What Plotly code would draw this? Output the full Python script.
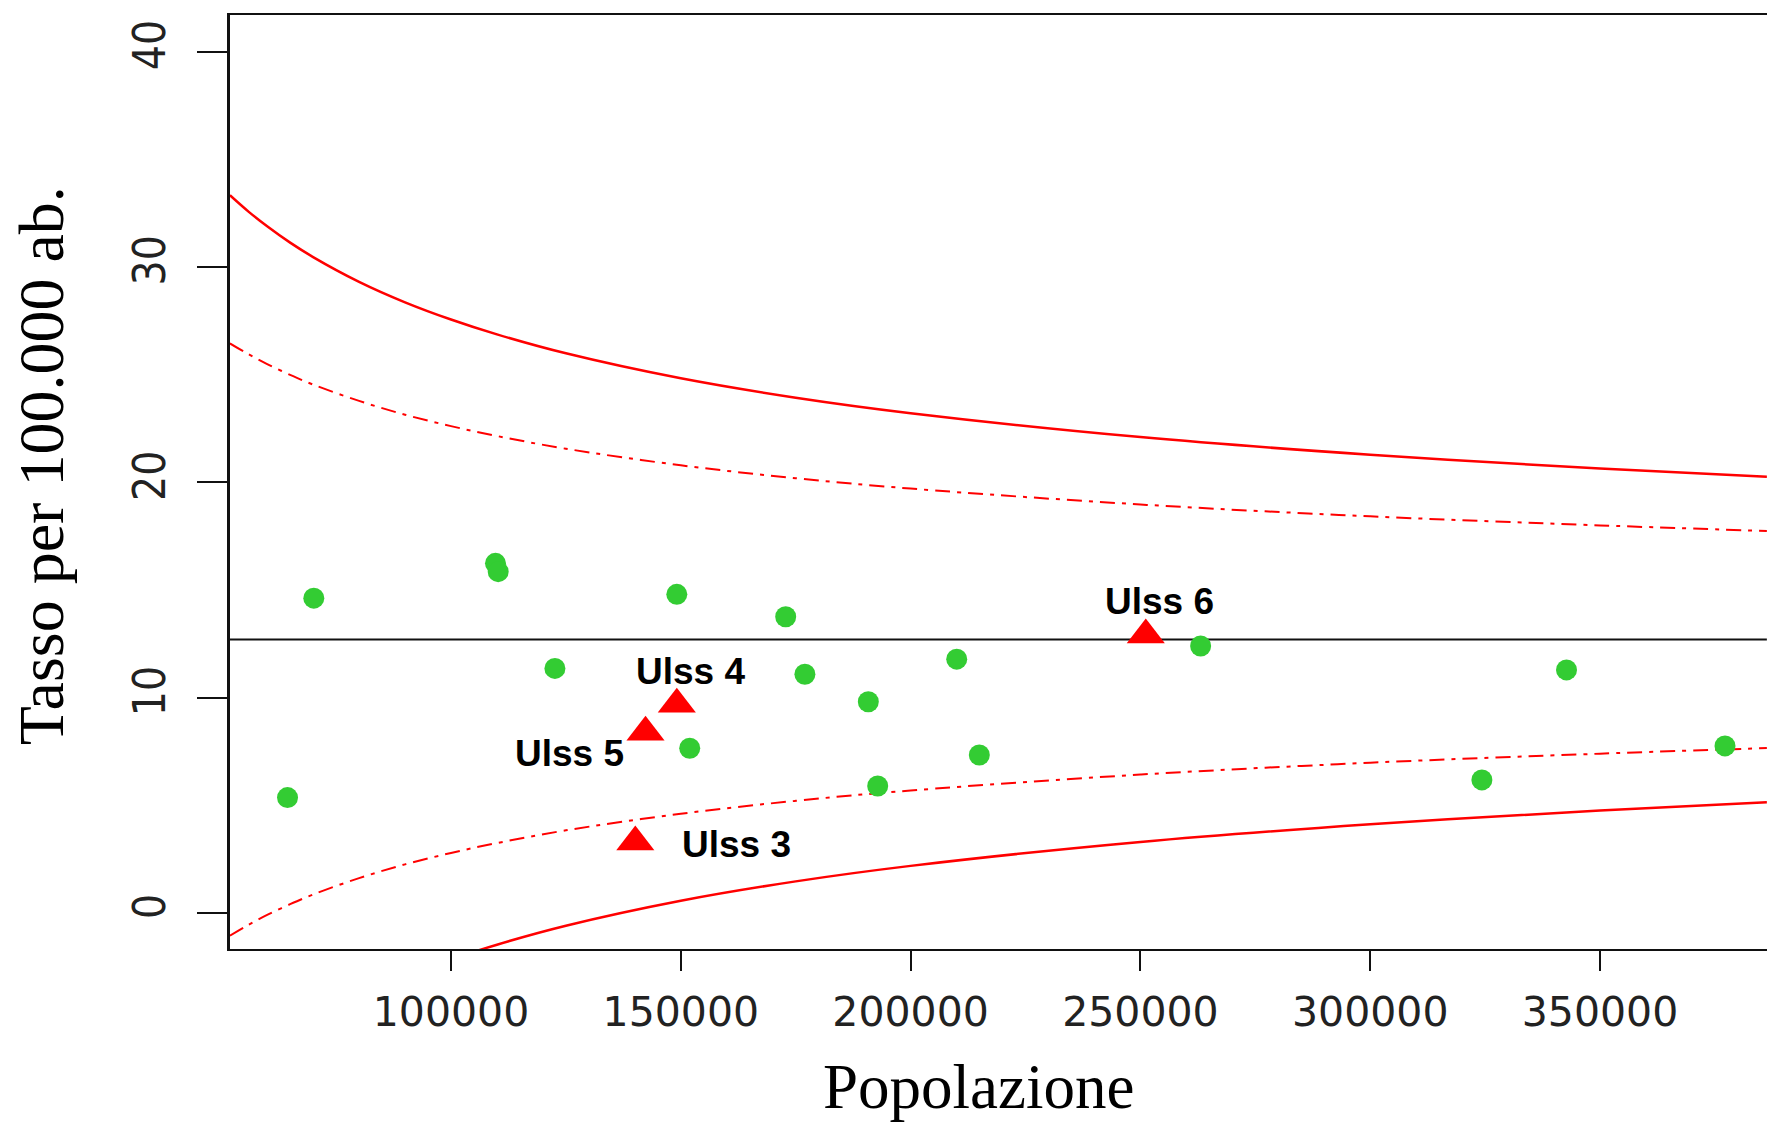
import plotly.graph_objects as go

# ---- data ----
pop_x = [51900, 56000, 60000, 65000, 70000, 80000, 90000, 100000, 110000, 125000,
         150000, 175000, 200000, 250000, 300000, 350000, 386300]
upper_99 = [33.33, 32.56, 31.89, 31.13, 30.46, 29.31, 28.36, 27.56, 26.87, 25.99,
            24.83, 23.93, 23.21, 22.10, 21.28, 20.64, 20.26]
upper_95 = [26.45, 25.94, 25.49, 24.99, 24.54, 23.78, 23.14, 22.61, 22.15, 21.56,
            20.79, 20.19, 19.71, 18.97, 18.42, 18.00, 17.74]
lower_95 = [-1.05, -0.54, -0.09, 0.41, 0.86, 1.62, 2.26, 2.79, 3.25, 3.84,
            4.61, 5.21, 5.69, 6.43, 6.98, 7.40, 7.66]
lower_99 = [-7.93, -7.16, -6.49, -5.73, -5.06, -3.91, -2.96, -2.16, -1.47, -0.59,
            0.57, 1.47, 2.19, 3.30, 4.12, 4.76, 5.14]
mean_rate = 12.7

other_pop = [70150, 109680, 110270, 149130, 172820, 122610, 177000, 190800, 151940,
             192840, 64430, 210030, 214950, 263100, 342710, 324300, 377190]
other_rate = [14.62, 16.24, 15.85, 14.80, 13.76, 11.36, 11.09, 9.81, 7.65,
              5.90, 5.36, 11.79, 7.34, 12.40, 11.29, 6.18, 7.76]

ulss_names = ["Ulss 6", "Ulss 4", "Ulss 5", "Ulss 3"]
ulss_pop = [251170, 149130, 142320, 140100]
ulss_rate = [12.91, 9.69, 8.39, 3.30]
label_x = [254050, 152130, 125810, 162010]
label_y = [14.47, 11.21, 7.40, 3.18]

x_ticks = [100000, 150000, 200000, 250000, 300000, 350000]
x_ticktext = ["100000", "150000", "200000", "250000", "300000", "350000"]
y_ticks = [0, 10, 20, 30, 40]
y_ticktext = ["0", "10", "20", "30", "40"]

x_title = "Popolazione"
y_title = "Tasso per 100.000 ab."

# ---- figure ----
fig = go.Figure()
RED = "#ff0000"
dashdot = "15px,7px,4px,7px"

fig.add_trace(go.Scatter(x=pop_x, y=upper_99, mode="lines",
                         line=dict(color=RED, width=2.5, shape="spline")))
fig.add_trace(go.Scatter(x=pop_x, y=upper_95, mode="lines",
                         line=dict(color=RED, width=2, dash=dashdot, shape="spline")))
fig.add_trace(go.Scatter(x=pop_x, y=lower_95, mode="lines",
                         line=dict(color=RED, width=2, dash=dashdot, shape="spline")))
fig.add_trace(go.Scatter(x=pop_x, y=lower_99, mode="lines",
                         line=dict(color=RED, width=2.5, shape="spline")))
fig.add_trace(go.Scatter(x=[pop_x[0], pop_x[-1]], y=[mean_rate, mean_rate], mode="lines",
                         line=dict(color="#111111", width=2)))

fig.add_trace(go.Scatter(x=other_pop, y=other_rate, mode="markers",
                         marker=dict(symbol="circle", size=21, color="#33cc33",
                                     line=dict(width=0))))
fig.add_trace(go.Scatter(x=ulss_pop, y=ulss_rate, mode="markers",
                         marker=dict(symbol="triangle-up", size=33, color=RED,
                                     line=dict(width=0))))

for name, lx, ly in zip(ulss_names, label_x, label_y):
    fig.add_annotation(x=lx, y=ly, xref="x", yref="y", text=name, showarrow=False,
                       xanchor="center", yanchor="middle",
                       font=dict(family="Liberation Sans, Arial, sans-serif", size=37,
                                 color="black", weight="bold"))

fig.add_annotation(x=0.4867, y=-0.1478, xref="paper", yref="paper", text=x_title,
                   showarrow=False, xanchor="center", yanchor="middle",
                   font=dict(family="Liberation Serif, Times New Roman, serif", size=63,
                             color="black"))
fig.add_annotation(x=-0.123, y=0.518, xref="paper", yref="paper", text=y_title,
                   showarrow=False, xanchor="center", yanchor="middle", textangle=-90,
                   font=dict(family="Liberation Serif, Times New Roman, serif", size=64,
                             color="black"))

fig.update_xaxes(range=[51915, 386330], tickvals=x_ticks, ticktext=x_ticktext,
                 ticks="outside", ticklen=20, tickwidth=2, tickcolor="#111111",
                 tickfont=dict(family="DejaVu Sans, sans-serif", size=41, color="#222222"),
                 showline=True, linewidth=2, linecolor="#111111", mirror=True,
                 showgrid=False, zeroline=False, ticklabelstandoff=6)
fig.update_yaxes(range=[-1.67, 41.70], tickvals=y_ticks, ticktext=y_ticktext,
                 ticks="outside", ticklen=30, tickwidth=2, tickcolor="#111111",
                 tickangle=-90,
                 tickfont=dict(family="Liberation Sans Narrow, DejaVu Sans Condensed, Arial Narrow, sans-serif",
                               size=44, color="#222222"),
                 showline=True, linewidth=3, linecolor="#111111", mirror=False,
                 showgrid=False, zeroline=False, ticklabelstandoff=14)

fig.update_layout(width=1767, height=1122,
                  margin=dict(l=230, r=0, t=15, b=173),
                  plot_bgcolor="white", paper_bgcolor="white",
                  showlegend=False)

fig.write_html("out.html")
